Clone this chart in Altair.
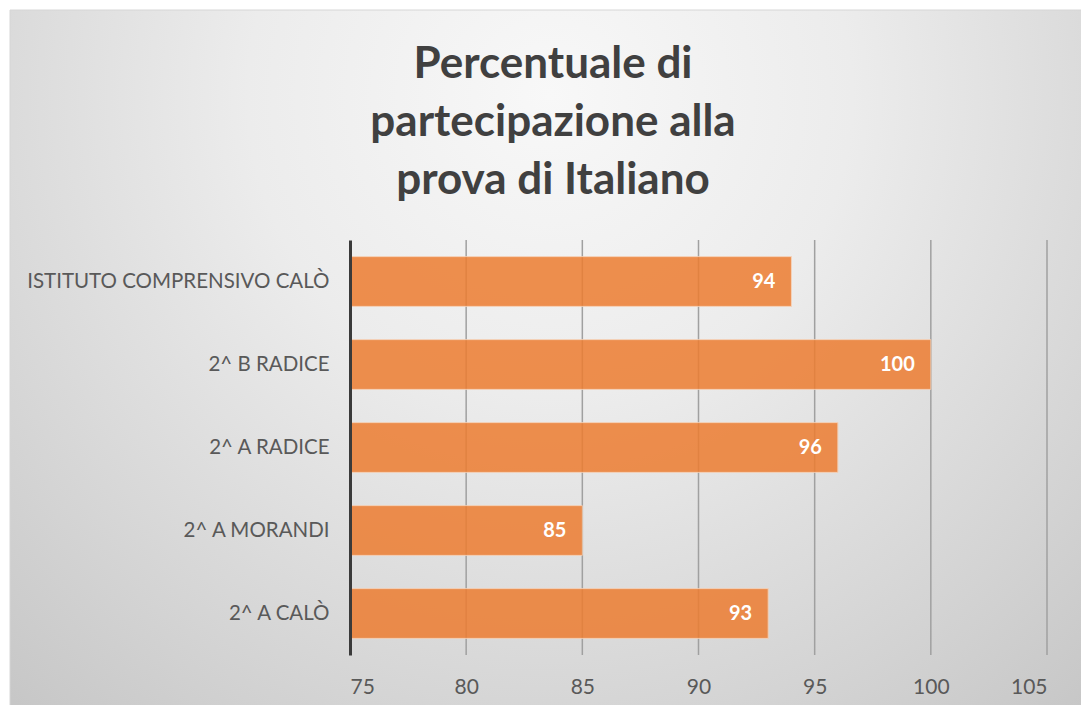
import altair as alt
import pandas as pd

categories = ["ISTITUTO COMPRENSIVO CALÒ", "2^ B RADICE", "2^ A RADICE", "2^ A MORANDI", "2^ A CALÒ"]
values = [94, 100, 96, 85, 93]
grid_values = [80, 85, 90, 95, 100, 105]
tick_values = [75, 80, 85, 90, 95, 100, 105]
title_lines = ["Percentuale di", "partecipazione alla", "prova di Italiano"]

df = pd.DataFrame({"cat": categories, "val": values})
grid_df = pd.DataFrame({"g": grid_values})
one = pd.DataFrame({"a": [0]})

FONT = "Lato"
W, H = 697, 415

x_scale = alt.Scale(domain=[75, 105], zero=False, nice=False)
y_scale = alt.Scale(domain=categories, paddingInner=0.4, paddingOuter=0.2)
x_axis = alt.Axis(
    values=tick_values, grid=False, ticks=False, domain=False,
    labelFont=FONT, labelFontSize=21, labelColor="#595959",
    labelPadding=21, title=None, zindex=1)

bg = alt.Chart(one).mark_rect(
    fill={
        "gradient": "radial",
        "x1": 0.5, "y1": 0.25, "r1": 0,
        "x2": 0.5, "y2": 0.25, "r2": 0.8,
        "stops": [
            {"offset": 0, "color": "#f8f8f8"},
            {"offset": 0.35, "color": "#ececec"},
            {"offset": 0.75, "color": "#d3d3d3"},
            {"offset": 1, "color": "#c3c3c3"},
        ],
    },
    stroke="#d6d6d6",
    strokeWidth=1,
).encode(
    x=alt.value(-340), x2=alt.value(740),
    y=alt.value(-230), y2=alt.value(480),
)

title = alt.Chart(one).mark_text(
    text=title_lines, font=FONT, fontSize=44, fontWeight="bold",
    color="#404040", align="center", baseline="alphabetic", lineHeight=58,
).encode(x=alt.value(553 - 350), y=alt.value(78 - 240))

grid = alt.Chart(grid_df).mark_rule(color="#a0a0a0", strokeWidth=1.5).encode(
    x=alt.X("g:Q", scale=x_scale, axis=x_axis)
)

bars = alt.Chart(df).mark_bar(
    color="#ED7D31", opacity=0.85, stroke="#f6cfb3", strokeWidth=1
).encode(
    x=alt.X("val:Q", scale=x_scale, axis=x_axis),
    x2=alt.datum(75),
    y=alt.Y("cat:N", scale=y_scale, sort=categories, axis=alt.Axis(
        title=None, ticks=False, grid=False, domainColor="#3a3a3a",
        domainWidth=3, labelFont=FONT, labelFontSize=20.5,
        labelColor="#595959", labelPadding=21, labelLimit=400, zindex=1)),
)

labels = alt.Chart(df).mark_text(
    align="right", baseline="middle", dx=-16, color="white",
    font=FONT, fontWeight="bold", fontSize=20,
).encode(
    x=alt.X("val:Q", scale=x_scale, axis=x_axis),
    y=alt.Y("cat:N", scale=y_scale, sort=categories),
    text=alt.Text("val:Q"),
)

chart = alt.layer(bg, title, grid, bars, labels).properties(
    width=W, height=H,
    padding={"left": 342, "top": 232, "right": 34, "bottom": 50},
    autosize=alt.AutoSizeParams(type="none"),
).configure_view(stroke=None)

chart.save("out.html", embed_options={"renderer": "svg", "actions": False})
